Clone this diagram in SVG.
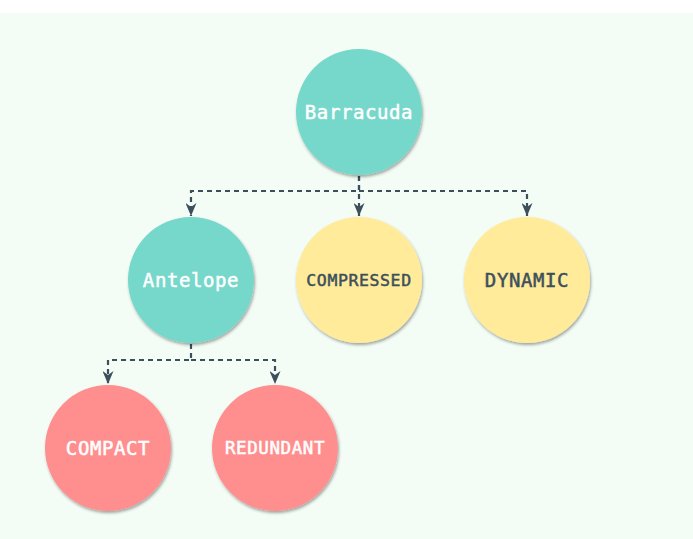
<svg xmlns="http://www.w3.org/2000/svg" width="693" height="539" viewBox="0 0 693 539">
<style>
.bg{fill:#f3fdf5}
.teal{fill:#76d7cb}
.yellow{fill:#ffeb99}
.pink{fill:#ff8f8f}
.node circle{filter:url(#sh)}
.lbl{font-family:"DejaVu Sans Mono","Liberation Mono",monospace;font-weight:normal;text-anchor:middle;dominant-baseline:central;letter-spacing:0.6px;stroke-width:0.5px}
.w{fill:#ffffff;stroke:#ffffff}
.d{fill:#3d4f5c;stroke:#3d4f5c}
.edge{fill:none;stroke:#3d4f5c;stroke-width:2.2;stroke-dasharray:5 4}
</style>
<defs>
<filter id="sh" x="-20%" y="-20%" width="140%" height="140%">
<feDropShadow dx="1" dy="2" stdDeviation="1.5" flood-color="#000" flood-opacity="0.35"/>
</filter>
<marker id="ah" viewBox="0 0 13 11" refX="13" refY="5.5" markerWidth="13" markerHeight="11" markerUnits="userSpaceOnUse" orient="auto">
<path d="M0,0 L13,5.5 L0,11 L4,5.5 Z" fill="#3d4f5c"/>
</marker>
</defs>
<rect x="0" y="0" width="693" height="539" fill="#ffffff"/>
<rect class="bg" x="0" y="13" width="693" height="526"/>
<g id="connectors">
<path class="edge" d="M359,176 V191 H191 V216" marker-end="url(#ah)"/>
<path class="edge" d="M359,176 V216" marker-end="url(#ah)"/>
<path class="edge" d="M359,191 H527 V216" marker-end="url(#ah)"/>
<path class="edge" d="M191,344 V360 H108 V384" marker-end="url(#ah)"/>
<path class="edge" d="M191,360 H275 V384" marker-end="url(#ah)"/>
</g>
<g id="barracuda" class="node"><circle class="teal" cx="359" cy="112" r="63"/><text class="lbl w" x="359" y="112" font-size="19">Barracuda</text></g>
<g id="antelope" class="node"><circle class="teal" cx="191" cy="280" r="63"/><text class="lbl w" x="191" y="280" font-size="19">Antelope</text></g>
<g id="compressed" class="node"><circle class="yellow" cx="359" cy="280" r="63"/><text class="lbl d" x="359" y="280" font-size="16.5">COMPRESSED</text></g>
<g id="dynamic" class="node"><circle class="yellow" cx="527" cy="280" r="63"/><text class="lbl d" x="527" y="280" font-size="19">DYNAMIC</text></g>
<g id="compact" class="node"><circle class="pink" cx="108" cy="448" r="63"/><text class="lbl w" x="108" y="448" font-size="19">COMPACT</text></g>
<g id="redundant" class="node"><circle class="pink" cx="275" cy="448" r="63"/><text class="lbl w" x="275" y="448" font-size="17.5">REDUNDANT</text></g>
</svg>
